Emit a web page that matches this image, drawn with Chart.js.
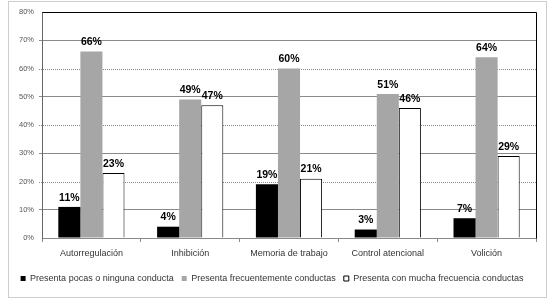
<!DOCTYPE html>
<html>
<head>
<meta charset="utf-8">
<script src="https://cdn.jsdelivr.net/npm/chart.js@4"></script>
<style>
  html, body { margin: 0; padding: 0; background: #fff; }
  #wrap { width: 554px; height: 299px; }
</style>
</head>
<body>
<div id="wrap"><canvas id="chart" width="554" height="299"></canvas></div>
<script>
// Categories and series
const categories = ["Autorregulación", "Inhibición", "Memoria de trabajo", "Control atencional", "Volición"];
const pocas = [11, 4, 19, 3, 7];
const frecuente = [66, 49, 60, 51, 64];
const muchaFrecuencia = [23, 47, 21, 46, 29];
const seriesNames = [
  "Presenta pocas o ninguna conducta",
  "Presenta frecuentemente conductas",
  "Presenta con mucha frecuencia conductas"
];
const yMax = 80;
const yStep = 10;

const fontFamily = "'Liberation Sans', Arial, sans-serif";

// Value labels above each bar
const valueLabels = {
  id: "valueLabels",
  afterDatasetsDraw(chart) {
    const ctx = chart.ctx;
    ctx.save();
    ctx.font = "bold 10.5px " + fontFamily;
    ctx.fillStyle = "#000";
    ctx.textAlign = "center";
    ctx.textBaseline = "bottom";
    chart.data.datasets.forEach((ds, i) => {
      chart.getDatasetMeta(i).data.forEach((bar, j) => {
        ctx.fillText(ds.data[j] + "%", bar.x, bar.y - 4);
      });
    });
    ctx.restore();
  }
};

// Dotted grid lines at the even ticks, plot border, outer frame
const frame = {
  id: "frame",
  beforeDatasetsDraw(chart) {
    const { ctx, chartArea: a, scales } = chart;
    ctx.save();
    ctx.strokeStyle = "#8a8a8a";
    ctx.lineWidth = 1;
    ctx.setLineDash([1, 1]);
    for (let v = 20; v < yMax; v += 20) {
      const y = Math.round(scales.y.getPixelForValue(v)) + 0.5;
      ctx.beginPath();
      ctx.moveTo(a.left - 3, y);
      ctx.lineTo(a.right, y);
      ctx.stroke();
    }
    ctx.restore();
  },
  afterDraw(chart) {
    const { ctx, chartArea: a } = chart;
    ctx.save();
    ctx.strokeStyle = "#000";
    ctx.lineWidth = 1;
    ctx.beginPath();
    ctx.moveTo(Math.round(a.left) + 0.5, Math.round(a.top) + 0.5);
    ctx.lineTo(Math.round(a.right) + 0.5, Math.round(a.top) + 0.5);
    ctx.lineTo(Math.round(a.right) + 0.5, Math.round(a.bottom) + 0.5);
    ctx.stroke();
    ctx.strokeStyle = "#9a9a9a";
    ctx.setLineDash([1, 1]);
    ctx.strokeRect(8.5, 1.5, 538, 296);
    ctx.restore();
  }
};

new Chart(document.getElementById("chart"), {
  type: "bar",
  data: {
    labels: categories,
    datasets: [
      { label: seriesNames[0], data: pocas, backgroundColor: "#000000", borderWidth: 0 },
      { label: seriesNames[1], data: frecuente, backgroundColor: "#a6a6a6", borderWidth: 0 },
      { label: seriesNames[2], data: muchaFrecuencia, backgroundColor: "#ffffff", borderColor: "#000000", borderWidth: 1 }
    ]
  },
  options: {
    responsive: false,
    animation: false,
    layout: { padding: { left: 8, right: 18, top: 12, bottom: 6 } },
    datasets: { bar: { categoryPercentage: 0.67, barPercentage: 1 } },
    plugins: {
      legend: {
        position: "bottom",
        labels: {
          boxWidth: 5,
          boxHeight: 5,
          padding: 8,
          color: "#333",
          font: { family: fontFamily, size: 9 }
        }
      },
      tooltip: { enabled: false }
    },
    scales: {
      x: {
        grid: { offset: true, drawOnChartArea: false, color: "#8a8a8a", tickLength: 4 },
        border: { color: "#8a8a8a" },
        ticks: { color: "#333", padding: 6, font: { family: fontFamily, size: 9 } },
        afterFit(scale) { scale.height = 28; }
      },
      y: {
        min: 0,
        max: yMax,
        ticks: {
          stepSize: yStep,
          padding: 5,
          color: "#555",
          font: { family: fontFamily, size: 7.5 },
          callback: v => v + "%"
        },
        grid: {
          tickLength: 3,
          color: ctx => (ctx.tick && ctx.tick.value % 20 === 10) ? "#8a8a8a" : "rgba(0,0,0,0)"
        },
        border: { color: "#666" },
        afterFit(scale) { scale.width = 34; }
      }
    }
  },
  plugins: [frame, valueLabels]
});
</script>
</body>
</html>
